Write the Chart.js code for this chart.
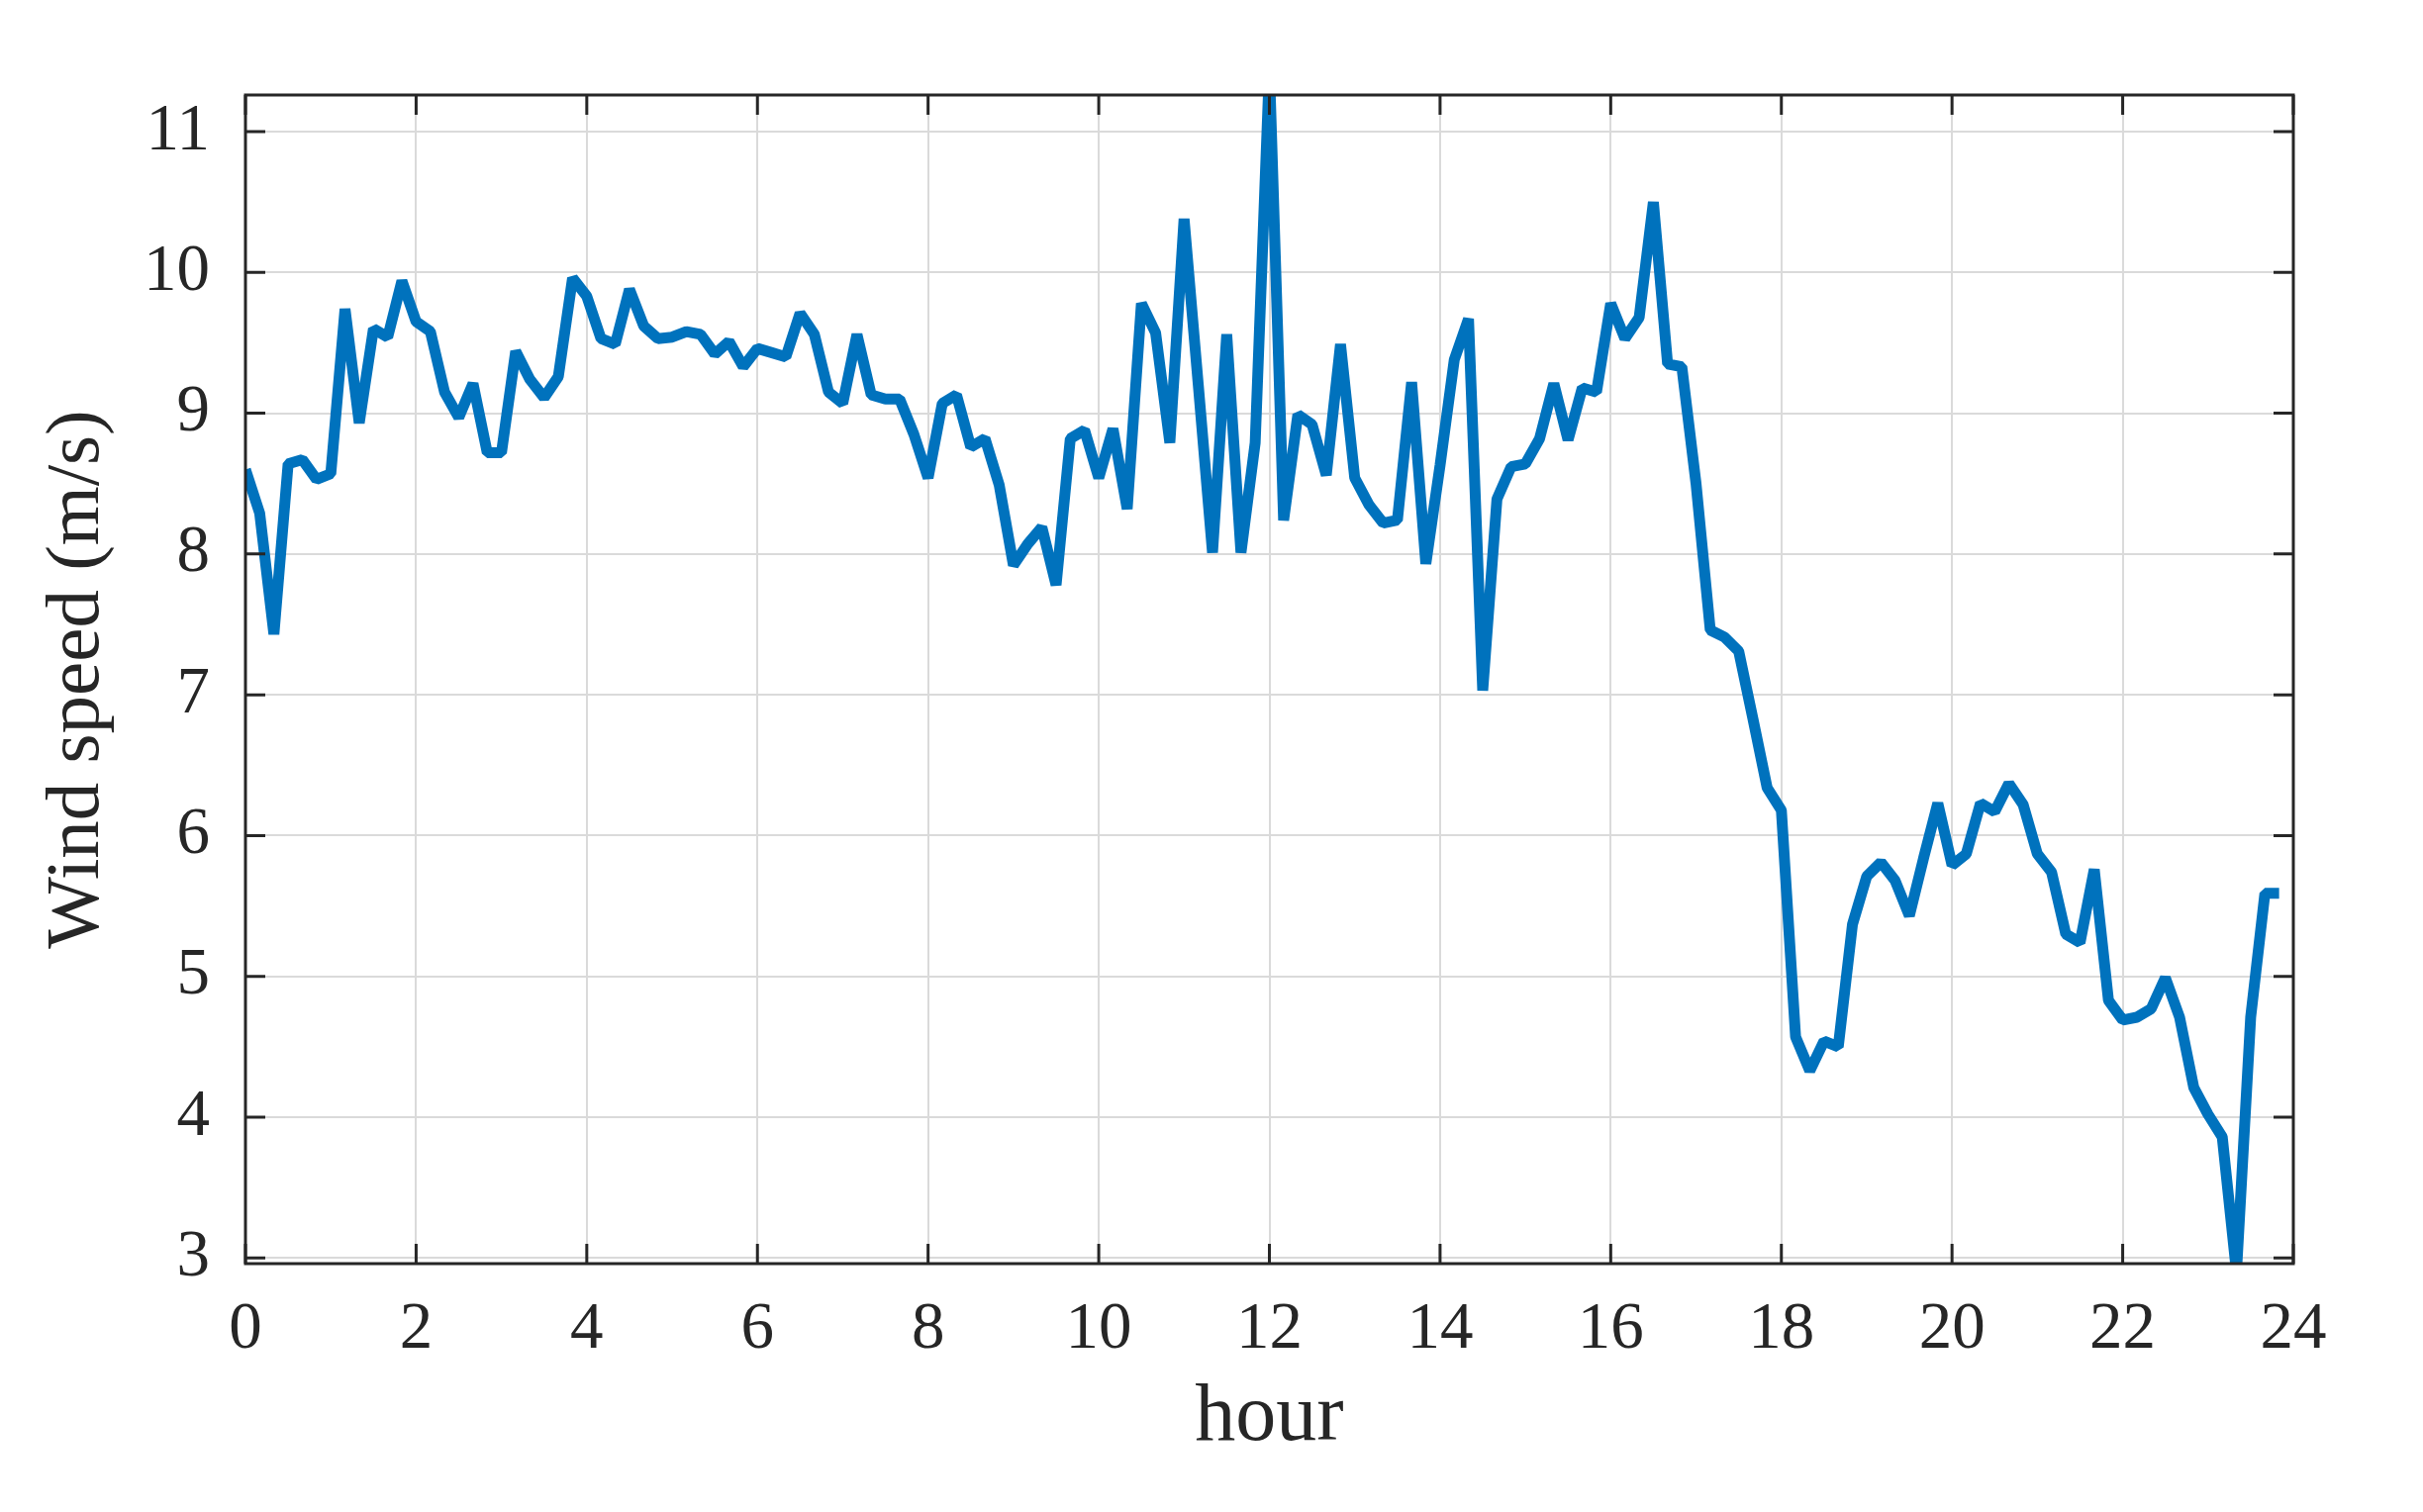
<!DOCTYPE html>
<html>
<head>
<meta charset="utf-8">
<title>Wind speed</title>
<script src="https://cdn.jsdelivr.net/npm/chart.js@4.4.0/dist/chart.umd.min.js"></script>
<style>
  html, body { margin: 0; padding: 0; background: #fff; }
  #wrap { width: 2448px; height: 1528px; }
</style>
</head>
<body>
<div id="wrap"><canvas id="windChart" width="2448" height="1528"></canvas></div>
<script>
// Wind speed (m/s), one sample every 10 minutes
const speed00to06 = [
  8.60, 8.29, 7.43, 8.64, 8.67, 8.53, 8.57, 9.74, 8.93, 9.60, 9.54, 9.94,
  9.65, 9.58, 9.15, 8.97, 9.21, 8.72, 8.72, 9.44, 9.24, 9.11, 9.26, 9.96,
  9.83, 9.53, 9.49, 9.88, 9.62, 9.53, 9.54, 9.58, 9.56, 9.42, 9.51, 9.33
];
const speed06to12 = [
  9.46, 9.43, 9.40, 9.71, 9.56, 9.15, 9.07, 9.56, 9.13, 9.10, 9.10, 8.85,
  8.54, 9.07, 9.13, 8.76, 8.82, 8.49, 7.92, 8.07, 8.19, 7.78, 8.82, 8.88,
  8.54, 8.89, 8.32, 9.78, 9.57, 8.79, 10.38, 9.20, 8.01, 9.56, 8.01, 8.79
];
const speed12to18 = [
  11.45, 8.24, 8.99, 8.92, 8.56, 9.49, 8.54, 8.35, 8.22, 8.24, 9.22, 7.93,
  8.63, 9.38, 9.67, 7.03, 8.39, 8.62, 8.64, 8.82, 9.21, 8.81, 9.18, 9.15,
  9.78, 9.53, 9.68, 10.50, 9.35, 9.33, 8.50, 7.46, 7.41, 7.31, 6.83, 6.34
];
const speed18to24 = [
  6.18, 4.57, 4.33, 4.54, 4.50, 5.37, 5.71, 5.81, 5.68, 5.43, 5.84, 6.23,
  5.79, 5.87, 6.23, 6.17, 6.37, 6.22, 5.87, 5.74, 5.30, 5.24, 5.76, 4.83,
  4.69, 4.71, 4.77, 4.99, 4.71, 4.21, 4.02, 3.86, 2.90, 4.71, 5.59, 5.59
];
const sampleStepHours = 10 / 60;

const hourTicks = [0, 2, 4, 6, 8, 10, 12, 14, 16, 18, 20, 22, 24];
const speedTicks = [3, 4, 5, 6, 7, 8, 9, 10, 11];

const speeds = [...speed00to06, ...speed06to12, ...speed12to18, ...speed18to24];
const points = speeds.map((v, i) => ({ x: i * sampleStepHours, y: v }));

Chart.defaults.font.family = "'Liberation Serif', 'DejaVu Serif', serif";
Chart.defaults.color = '#262626';

const TICK_LEN = 20;

// MATLAB-style box with inward tick marks
const boxPlugin = {
  id: 'box',
  afterDatasetsDraw(chart) {
    const { ctx, chartArea: a, scales: { x, y } } = chart;
    ctx.save();
    ctx.strokeStyle = '#262626';
    ctx.lineWidth = 3;
    ctx.beginPath();
    x.ticks.forEach(t => {
      const px = x.getPixelForValue(t.value);
      ctx.moveTo(px, a.bottom);
      ctx.lineTo(px, a.bottom - TICK_LEN);
      ctx.moveTo(px, a.top);
      ctx.lineTo(px, a.top + TICK_LEN);
    });
    y.ticks.forEach(t => {
      const py = y.getPixelForValue(t.value);
      ctx.moveTo(a.left, py);
      ctx.lineTo(a.left + TICK_LEN, py);
      ctx.moveTo(a.right, py);
      ctx.lineTo(a.right - TICK_LEN, py);
    });
    ctx.stroke();
    ctx.strokeRect(a.left, a.top, a.right - a.left, a.bottom - a.top);
    ctx.restore();
  }
};

new Chart(document.getElementById('windChart'), {
  type: 'line',
  data: {
    datasets: [{
      data: points,
      borderColor: '#0072BD',
      borderWidth: 11,
      borderJoinStyle: 'bevel',
      pointRadius: 0,
      tension: 0,
      fill: false,
      clip: 0
    }]
  },
  options: {
    responsive: false,
    devicePixelRatio: 1,
    animation: false,
    layout: { padding: { top: 96, right: 131, left: 0, bottom: 0 } },
    plugins: {
      legend: { display: false },
      tooltip: { enabled: false }
    },
    scales: {
      x: {
        type: 'linear',
        min: 0,
        max: 24,
        afterBuildTicks: s => { s.ticks = hourTicks.map(v => ({ value: v })); },
        afterFit: s => { s.height = 251; },
        grid: { color: '#dadada', lineWidth: 2, drawTicks: false },
        border: { display: false },
        ticks: {
          padding: 27,
          maxRotation: 0,
          autoSkip: false,
          font: { size: 67, lineHeight: 1.2 }
        },
        title: {
          display: true,
          text: 'hour',
          font: { size: 82, lineHeight: 1 },
          padding: { top: 0, bottom: 54 }
        }
      },
      y: {
        min: 2.96,
        max: 11.26,
        afterBuildTicks: s => { s.ticks = speedTicks.map(v => ({ value: v })); },
        afterFit: s => { s.width = 248; },
        grid: { color: '#dadada', lineWidth: 2, drawTicks: false },
        border: { display: false },
        ticks: {
          padding: 36,
          autoSkip: false,
          font: { size: 67, lineHeight: 1.2 }
        },
        title: {
          display: true,
          text: 'Wind speed (m/s)',
          font: { size: 77, lineHeight: 1 },
          padding: { top: 40, bottom: 0 }
        }
      }
    }
  },
  plugins: [boxPlugin]
});
</script>
</body>
</html>
